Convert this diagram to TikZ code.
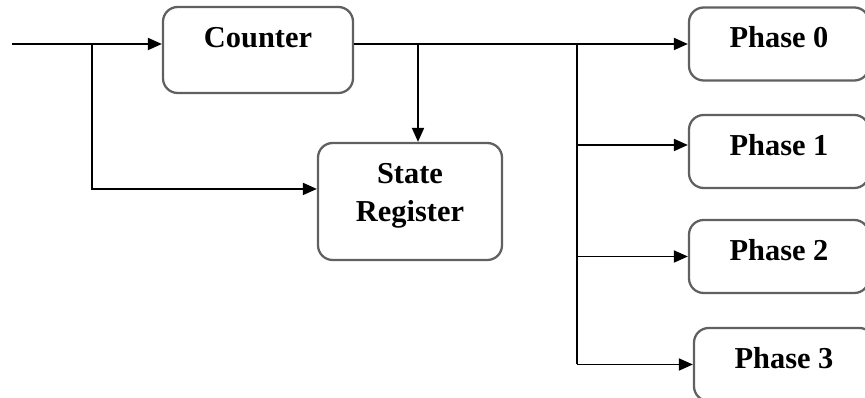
\documentclass[tikz,border=0pt]{standalone}
\usepackage{fontspec}
\setmainfont{Liberation Serif}
\usepackage{tikz}
\usetikzlibrary{
arrows.meta,
positioning,
calc
}
\definecolor{blkgray}{RGB}{96,96,96}

\begin{document}
\begin{tikzpicture}[
  x=0.75pt, y=-0.75pt,
  >={Triangle[length=10.5pt,width=9pt]},
  every node/.style={font=\bfseries\fontsize{22.8}{28.5}\selectfont},
  blk/.style={draw=blkgray, line width=1.7pt, rounded corners=11pt,
              align=center, inner xsep=0pt, inner ysep=15pt,
              text height=15.1pt},
  phase/.style={blk, minimum width=135pt, text depth=9.65pt},
  arrow/.style={->, line width=1.4pt},
  wire/.style={line width=1.4pt}
]
\clip (0,0) rectangle (865,398);
\useasboundingbox (0,0) rectangle (865,398);

%% Counter and state register
\node[blk, minimum width=142.5pt, text depth=19.4pt] (cnt) at (258, 50)
  {Counter};
\node[blk, minimum width=138pt, text height=43.6pt, text depth=14.15pt]
  (sr) at (410, 201.5)
  {State\\Register};

%% Phase outputs
\node[phase] (ph0) at (779, 44)    {Phase 0};
\node[phase] (ph1) at (779, 151.5) {Phase 1};
\node[phase] (ph2) at (779, 256.5) {Phase 2};
\node[phase] (ph3) at (784, 364.5) {Phase 3};

%% Input and split
\coordinate (in)    at (12, 44);
\coordinate (split) at (92, 44);
\draw[arrow] (in) -- (in -| cnt.west);
\draw[arrow] (split) |- ([yshift=9.4pt]sr.west);

%% Counter output
\coordinate (tap) at (418, 44);
\coordinate (bus) at (577, 44);
\draw[arrow] (cnt.east |- ph0.west) -- (ph0.west);
\draw[arrow] (tap) -- (tap |- sr.north);

%% Bus to phases
\draw[wire] (bus) -- (bus |- ph3.west);
\draw[arrow] (bus |- ph1.west) ++(0,-6.5) coordinate (b1)
  (b1) -- (b1 -| ph1.west);
\draw[arrow] (bus |- ph2.west) -- (ph2.west);
\draw[arrow] (bus |- ph3.west) -- (ph3.west);

\end{tikzpicture}
\end{document}
